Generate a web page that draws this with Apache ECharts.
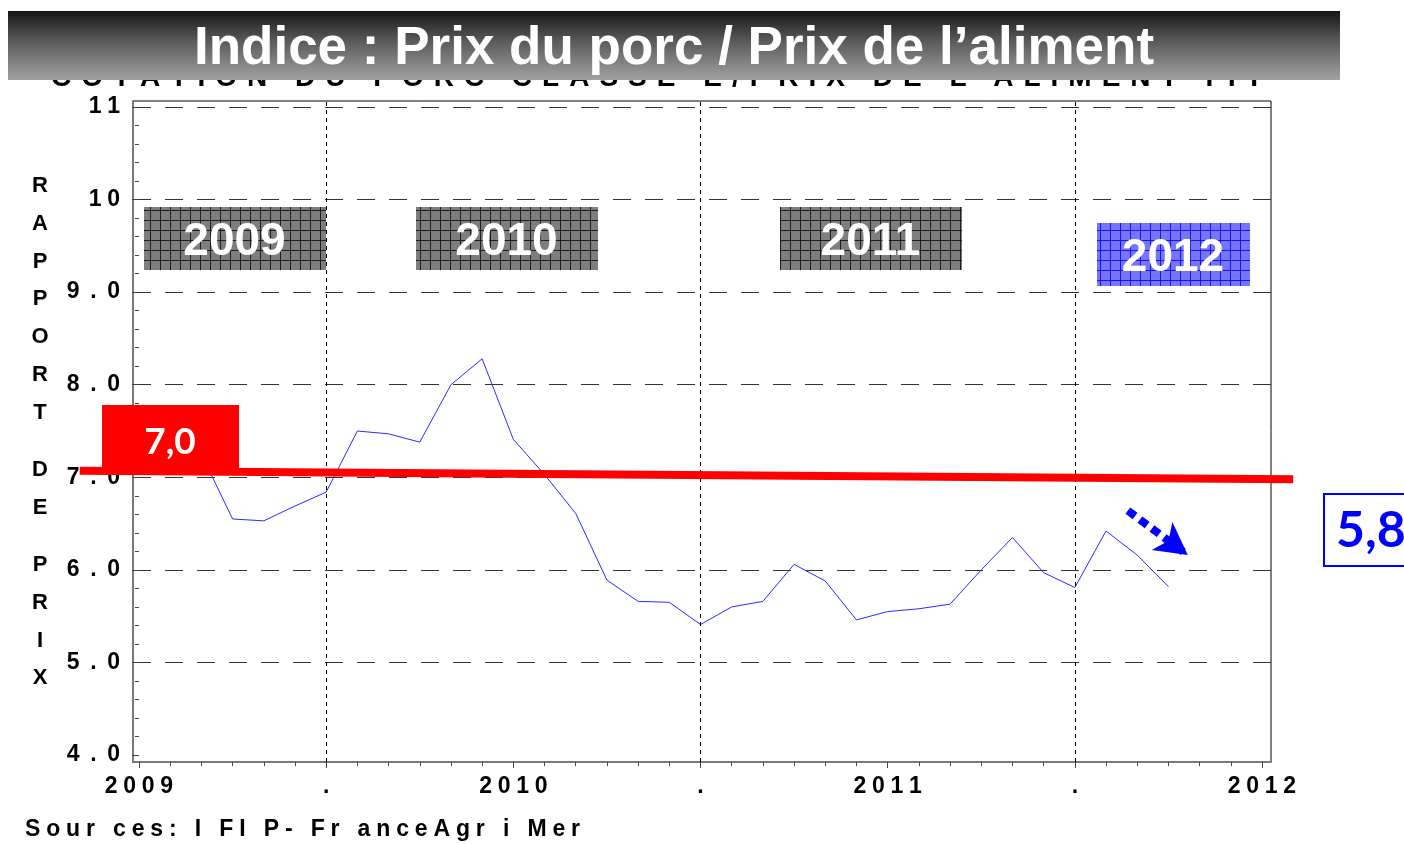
<!DOCTYPE html>
<html><head><meta charset="utf-8">
<script src="https://cdn.jsdelivr.net/npm/echarts@6/dist/echarts.min.js"></script>
<style>html,body{margin:0;padding:0;background:#fff}#c{width:1404px;height:844px}</style>
</head><body><div id="c"></div>
<script>
// ---- data ----
const months = ['2009-01','2009-02','2009-03','2009-04','2009-05','2009-06','2009-07','2009-08','2009-09','2009-10','2009-11','2009-12',
  '2010-01','2010-02','2010-03','2010-04','2010-05','2010-06','2010-07','2010-08','2010-09','2010-10','2010-11','2010-12',
  '2011-01','2011-02','2011-03','2011-04','2011-05','2011-06','2011-07','2011-08','2011-09','2011-10'];
const ratio = [7.30, 7.28, 7.25, 6.55, 6.53, 6.69, 6.84, 7.50, 7.47, 7.38, 8.00, 8.28,
  7.41, 7.03, 6.61, 5.89, 5.66, 5.65, 5.41, 5.60, 5.66, 6.06, 5.88, 5.46,
  5.55, 5.58, 5.63, 6.00, 6.35, 5.97, 5.81, 6.42, 6.16, 5.82];
const xTickValues = [0, 6, 12, 18, 24, 30, 36];
const xTickLabels = ['2009', '.', '2010', '.', '2011', '.', '2012'];
const yTickValues = [4, 5, 6, 7, 8, 9, 10, 11];
const yTickLabels = ['4.0', '5.0', '6.0', '7.0', '8.0', '9.0', '10', '11'];
const halfYearLines = [6, 18, 30];
const refLineX = [-1.9, 37.0];
const refLineY = [7.07, 6.98];
const refLabel = '7,0';
const lastLabel = '5,8';
const arrowX = [31.7, 33.62];
const arrowY = [6.64, 6.16];
const yearLabels = ['2009', '2010', '2011', '2012'];
const titleText = 'Indice : Prix du porc / Prix de l\u2019aliment';
const subtitleText = "COTATION DU PORC CLASSE E/PRIX DE L'ALIMENT ITP";
const sourceText = 'Sour ces: I FI P- Fr anceAgr i Mer';
const yTitleParts = ['RAPPORT', 'DE', 'PRIX'];

// ---- helpers ----
const FONT = '"Liberation Sans", Arial, sans-serif';
function monthIndex(m) { const p = m.split('-'); return (+p[0] - 2009) * 12 + (+p[1] - 1); }
const mctx = document.createElement('canvas').getContext('2d');
function spacedRich(str, fontSize, color, totalWidth) {
  mctx.font = 'bold ' + fontSize + 'px ' + FONT;
  const chars = [...str];
  const w = chars.map(ch => mctx.measureText(ch).width);
  const sum = w.reduce((a, b) => a + b, 0);
  const gap = (totalWidth - sum) / (chars.length - 1);
  const rich = {};
  let text = '';
  chars.forEach((ch, i) => {
    const k = 'k' + i;
    rich[k] = { width: w[i] + (i < chars.length - 1 ? gap : 0), align: 'left', fontSize: fontSize, fontWeight: 'bold', fontFamily: FONT, fill: color, color: color };
    text += '{' + k + '|' + ch + '}';
  });
  return { text, rich };
}
function cellLabel(s) { return [...s].map(ch => ch === '.' ? '{p|.}' : '{d|' + ch + '}').join(''); }
const cellRich = {
  d: { width: 18.5, align: 'center', fontSize: 23, fontWeight: 'bold', fontFamily: FONT, color: '#000' },
  p: { width: 22, align: 'center', fontSize: 23, fontWeight: 'bold', fontFamily: FONT, color: '#000' }
};
function gridPattern(bg, line) {
  const c = document.createElement('canvas'); c.width = 10; c.height = 10;
  const g = c.getContext('2d');
  g.fillStyle = bg; g.fillRect(0, 0, 10, 10);
  g.fillStyle = line; g.fillRect(0, 0, 10, 1); g.fillRect(0, 0, 1, 10);
  return c;
}
const grayPat = gridPattern('#7e7e7e', '#1e1e1e');
const bluePat = gridPattern('#7575f5', '#1515e8');

const sub = spacedRich(subtitleText, 28, '#000', 1218);
const src = spacedRich(sourceText, 23, '#000', 555);

const chart = echarts.init(document.getElementById('c'), null, { renderer: 'canvas' });

const option = {
  animation: false,
  backgroundColor: '#fff',
  grid: [
    { left: 133, width: 1138, top: 107, height: 648 },
    { left: 139, width: 1123, top: 101, height: 661 },
    { left: 133, width: 1138, top: 101, height: 661, show: true, borderColor: '#000', borderWidth: 1, backgroundColor: 'transparent' }
  ],
  xAxis: [
    { gridIndex: 0, type: 'value', min: -0.19, max: 36.28, show: false },
    { gridIndex: 1, type: 'value', min: 0, max: 36, interval: 6,
      axisLine: { show: false },
      axisTick: { show: true, length: 6, lineStyle: { color: '#444' } },
      minorTick: { show: true, splitNumber: 6, length: 4, lineStyle: { color: '#444' } },
      splitLine: { show: false },
      axisLabel: { margin: 13, showMinLabel: true, showMaxLabel: true, hideOverlap: false,
        formatter: v => { const i = xTickValues.indexOf(v); return i < 0 ? '' : cellLabel(xTickLabels[i]); }, rich: cellRich } },
    { gridIndex: 2, type: 'value', min: 0, max: 1, axisLine: { show: true, lineStyle: { color: '#7a7a7a', width: 2 } }, axisTick: { show: false }, axisLabel: { show: false }, splitLine: { show: false } }
  ],
  yAxis: [
    { gridIndex: 0, type: 'value', min: 4, max: 11, interval: 1,
      axisLine: { show: false },
      axisTick: { show: true, length: 7, lineStyle: { color: '#444' } },
      minorTick: { show: true, splitNumber: 5, length: 4, lineStyle: { color: '#444' } },
      splitLine: { show: true, showMinLine: false, showMaxLine: true, lineStyle: { color: '#333', type: [18, 14], width: 1 } },
      axisLabel: { margin: 10, showMinLabel: true, showMaxLabel: true,
        formatter: v => { const i = yTickValues.indexOf(v); return i < 0 ? '' : cellLabel(yTickLabels[i]); }, rich: cellRich } },
    { gridIndex: 1, type: 'value', min: 3.925, max: 11.065, show: false },
    { gridIndex: 2, type: 'value', min: 0, max: 1, axisLine: { show: true, lineStyle: { color: '#7a7a7a', width: 2 } }, axisTick: { show: false }, axisLabel: { show: false }, splitLine: { show: false } }
  ],
  series: [
    { name: 'Rapport', type: 'line', xAxisIndex: 1, yAxisIndex: 1, z: 3,
      data: months.map((m, i) => [monthIndex(m), ratio[i]]),
      symbol: 'none', showSymbol: false,
      lineStyle: { color: '#2b2bff', width: 1 },
      markLine: { silent: true, symbol: ['none', 'none'], label: { show: false },
        data: halfYearLines.map(x => ({ xAxis: x, lineStyle: { color: '#000', type: [4, 4], width: 1 } })).concat([
          [ { coord: [arrowX[0], arrowY[0]], symbol: 'none', lineStyle: { color: '#0000ff', width: 8, type: [9, 6] } },
            { coord: [arrowX[1], arrowY[1]], symbol: 'arrow', symbolSize: [26, 32], lineStyle: { color: '#0000ff', width: 8, type: [9, 6] } } ]
        ]) } }
  ]
};
chart.setOption(option);

// reference line at 7,0 drawn through the axis scales (extends beyond the frame)
const refPts = refLineX.map((x, i) => chart.convertToPixel({ xAxisIndex: 1, yAxisIndex: 1 }, [x, refLineY[i]]));

const graphics = [];
graphics.push({ type: 'polyline', z: 5, shape: { points: refPts }, style: { stroke: '#ff0000', lineWidth: 8, fill: null } });
// subtitle partially hidden behind banner
graphics.push({ type: 'text', x: 660, y: 78, z: 90, style: { text: sub.text, rich: sub.rich, align: 'center', verticalAlign: 'middle', textAlign: 'center', textVerticalAlign: 'middle' } });
// banner
graphics.push({ type: 'rect', z: 100, shape: { x: 8, y: 11, width: 1332, height: 69 },
  style: { fill: { type: 'linear', x: 0, y: 0, x2: 0, y2: 1, colorStops: [
    { offset: 0, color: '#151515' }, { offset: 0.45, color: '#5c5c5c' }, { offset: 1, color: '#a2a2a2' }] } } });
graphics.push({ type: 'text', z: 101, x: 674, y: 49, style: { text: titleText, fill: '#fff', font: 'bold 53px ' + FONT, align: 'center', verticalAlign: 'middle', textAlign: 'center', textVerticalAlign: 'middle' } });
// y axis title (stacked letters)
const yTitleTops = [167, 451, 546];
yTitleParts.forEach((t, i) => {
  graphics.push({ type: 'text', z: 20, x: 40, y: yTitleTops[i], style: { text: [...t].join('\n'), fill: '#000', font: 'bold 22px ' + FONT, lineHeight: 37.8, align: 'center', verticalAlign: 'top', textAlign: 'center', textVerticalAlign: 'top' } });
});
// year boxes
const yearBoxes = [
  { x: 144, y: 207, w: 182, h: 63, pat: grayPat },
  { x: 416, y: 207, w: 182, h: 63, pat: grayPat },
  { x: 780, y: 207, w: 182, h: 63, pat: grayPat },
  { x: 1097, y: 223, w: 153, h: 63, pat: bluePat }
];
yearBoxes.forEach((b, i) => {
  graphics.push({ type: 'rect', z: 10, shape: { x: b.x, y: b.y, width: b.w, height: b.h }, style: { fill: { image: b.pat, repeat: 'repeat' } } });
  graphics.push({ type: 'text', z: 11, x: b.x + b.w / 2 - 0.5, y: b.y + b.h / 2 + 4, style: { text: yearLabels[i], fill: '#fff', font: 'bold 46px ' + FONT, align: 'center', verticalAlign: 'middle', textAlign: 'center', textVerticalAlign: 'middle' } });
});
// red reference label
graphics.push({ type: 'rect', z: 10, shape: { x: 102, y: 405, width: 137, height: 66 }, style: { fill: '#ff0000' } });
graphics.push({ type: 'text', z: 11, x: 170, y: 442, style: { text: refLabel, fill: '#fff', font: 'bold 37px Lato, "Open Sans", sans-serif', align: 'center', verticalAlign: 'middle', textAlign: 'center', textVerticalAlign: 'middle' } });
// blue last-value label
graphics.push({ type: 'rect', z: 10, shape: { x: 1324, y: 494, width: 100, height: 72 }, style: { fill: '#fff', stroke: '#0000ff', lineWidth: 2 } });
graphics.push({ type: 'text', z: 11, x: 1336, y: 531, style: { text: lastLabel, fill: '#0000ff', font: 'bold 50px Lato, "Open Sans", sans-serif', align: 'left', verticalAlign: 'middle', textAlign: 'left', textVerticalAlign: 'middle' } });
// source
graphics.push({ type: 'text', z: 20, x: 25, y: 830, style: { text: src.text, rich: src.rich, align: 'left', verticalAlign: 'middle', textAlign: 'left', textVerticalAlign: 'middle' } });

chart.setOption({ graphic: { elements: graphics } });
</script>
</body></html>
